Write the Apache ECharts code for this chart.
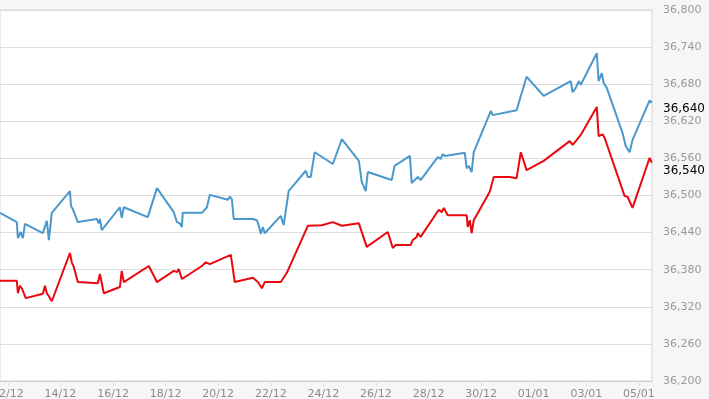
<!DOCTYPE html>
<html>
<head>
<meta charset="utf-8">
<script src="https://cdn.jsdelivr.net/npm/echarts@6/dist/echarts.min.js"></script>
<style>
  html, body { margin: 0; padding: 0; background: #f6f6f6; }
  #main { width: 709px; height: 399px; }
</style>
</head>
<body>
<div id="main"></div>
<script>
// x = days counted from 12/12
var tickDays = [0, 2, 4, 6, 8, 10, 12, 14, 16, 18, 20, 22, 24]
var tickLabels = ['12/12', '14/12', '16/12', '18/12', '20/12', '22/12', '24/12',
  '26/12', '28/12', '30/12', '01/01', '03/01', '05/01']

var blueDays = [-0.30, 0.34, 0.38, 0.49, 0.57, 0.65, 1.33, 1.48, 1.56, 1.67,
  2.36, 2.40, 2.47, 2.66, 3.38, 3.46, 3.50, 3.57, 4.26, 4.33,
  4.41, 5.32, 5.67, 6.31, 6.43, 6.46, 6.54, 6.62, 6.65, 7.38,
  7.57, 7.68, 8.37, 8.44, 8.52, 8.59, 9.32, 9.47, 9.54, 9.62,
  9.70, 9.77, 10.38, 10.49, 10.68, 11.33, 11.41, 11.52, 11.67, 12.36,
  12.70, 13.35, 13.46, 13.61, 13.69, 14.60, 14.71, 15.29, 15.36, 15.59,
  15.70, 16.35, 16.46, 16.54, 16.62, 16.69, 17.38, 17.45, 17.53, 17.64,
  17.72, 18.37, 18.44, 19.35, 19.73, 20.38, 21.41, 21.48, 21.60, 21.71,
  21.79, 22.40, 22.47, 22.59, 22.66, 22.78, 23.38, 23.50, 23.57, 23.65,
  23.76, 24.41, 24.49]
var blueValues = [36472, 36457, 36431, 36441, 36431, 36454, 36439, 36459, 36428, 36472,
  36507, 36483, 36478, 36457, 36462, 36455, 36462, 36444, 36481, 36464,
  36481, 36465, 36512, 36473, 36457, 36460, 36455, 36449, 36472, 36472,
  36481, 36501, 36493, 36498, 36494, 36462, 36462, 36460, 36452, 36438,
  36449, 36439, 36467, 36452, 36507, 36540, 36530, 36530, 36570, 36551,
  36591, 36556, 36522, 36507, 36538, 36525, 36548, 36564, 36520, 36530,
  36525, 36562, 36559, 36567, 36564, 36567, 36569, 36544, 36548, 36538,
  36570, 36637, 36630, 36638, 36692, 36661, 36685, 36667, 36674, 36685,
  36679, 36730, 36685, 36698, 36682, 36674, 36601, 36580, 36583, 36570,
  36590, 36654, 36650]

var redDays = [-0.30, 0.34, 0.38, 0.46, 0.53, 0.57, 0.68, 1.33, 1.41, 1.48,
  1.56, 1.67, 2.36, 2.43, 2.51, 2.66, 3.42, 3.50, 3.65, 4.26,
  4.33, 4.41, 5.36, 5.67, 6.31, 6.43, 6.50, 6.62, 6.65, 7.38,
  7.53, 7.68, 8.48, 8.63, 9.32, 9.51, 9.66, 9.77, 10.38, 10.61,
  11.41, 11.94, 12.36, 12.70, 13.35, 13.50, 13.65, 14.45, 14.64, 14.75,
  15.32, 15.40, 15.55, 15.59, 15.70, 16.39, 16.50, 16.58, 16.73, 17.45,
  17.49, 17.57, 17.64, 17.72, 18.33, 18.48, 19.09, 19.35, 19.51, 19.73,
  20.38, 21.37, 21.48, 21.60, 21.79, 22.40, 22.47, 22.62, 22.70, 23.46,
  23.57, 23.76, 24.41, 24.49]
var redValues = [36362, 36362, 36342, 36354, 36350, 36347, 36334, 36341, 36354, 36342,
  36337, 36329, 36407, 36392, 36384, 36360, 36358, 36373, 36342, 36352,
  36378, 36360, 36386, 36360, 36378, 36376, 36381, 36365, 36367, 36386,
  36392, 36389, 36404, 36360, 36367, 36360, 36350, 36360, 36360, 36375,
  36451, 36452, 36457, 36451, 36455, 36436, 36417, 36441, 36415, 36420,
  36420, 36428, 36433, 36439, 36433, 36477, 36473, 36480, 36468, 36468,
  36449, 36460, 36439, 36460, 36506, 36530, 36530, 36528, 36570, 36541,
  36556, 36588, 36582, 36588, 36598, 36643, 36596, 36599, 36593, 36499,
  36498, 36480, 36561, 36553]

var blueLast = 36640
var redLast = 36540

function pairs(xs, ys) {
  return xs.map(function (x, i) { return [x, ys[i]] })
}

function fmt(v) {
  return String(v).replace(/\B(?=(\d{3})+(?!\d))/g, ',')
}

// invisible line, only the value label on the right
function lastLabel(v) {
  return {
    symbol: 'none',
    silent: true,
    animation: false,
    lineStyle: { width: 1, color: 'rgba(0,0,0,0)' },
    label: {
      show: true,
      position: 'end',
      distance: 11,
      color: '#000',
      fontSize: 12,
      fontFamily: 'DejaVu Sans',
      formatter: fmt(v)
    },
    data: [{ yAxis: v }]
  }
}

var myChart = echarts.init(document.getElementById('main'))

var option = {
  animation: false,
  backgroundColor: '#f6f6f6',
  grid: {
    left: 0,
    right: 57,
    top: 10,
    bottom: 18,
    outerBoundsMode: 'none',
    containLabel: false,
    show: true,
    backgroundColor: '#fff',
    borderColor: '#d4d4d4',
    borderWidth: 1
  },
  xAxis: {
    type: 'value',
    min: -0.3,
    max: 24.5,
    splitLine: { show: false },
    axisLine: { lineStyle: { color: '#ccc' } },
    axisTick: {
      customValues: tickDays,
      length: 5,
      lineStyle: { color: '#ddd' }
    },
    axisLabel: {
      customValues: tickDays,
      margin: 8,
      color: '#8c8c8c',
      fontSize: 11,
      fontFamily: 'DejaVu Sans',
      formatter: function (v) {
        return tickLabels[tickDays.indexOf(v)]
      }
    }
  },
  yAxis: {
    type: 'value',
    position: 'right',
    min: 36200,
    max: 36800,
    interval: 60,
    axisLine: { show: false },
    axisTick: { show: false },
    splitLine: { lineStyle: { color: '#dcdcdc' } },
    axisLabel: {
      margin: 11,
      color: '#999',
      fontSize: 11,
      fontFamily: 'DejaVu Sans',
      formatter: fmt
    }
  },
  series: [
    {
      type: 'line',
      data: pairs(blueDays, blueValues),
      showSymbol: false,
      lineStyle: { color: '#4a98cc', width: 2 },
      markLine: lastLabel(blueLast)
    },
    {
      type: 'line',
      data: pairs(redDays, redValues),
      showSymbol: false,
      lineStyle: { color: '#e8080e', width: 2 },
      markLine: lastLabel(redLast)
    }
  ]
}

myChart.setOption(option)
</script>
</body>
</html>
